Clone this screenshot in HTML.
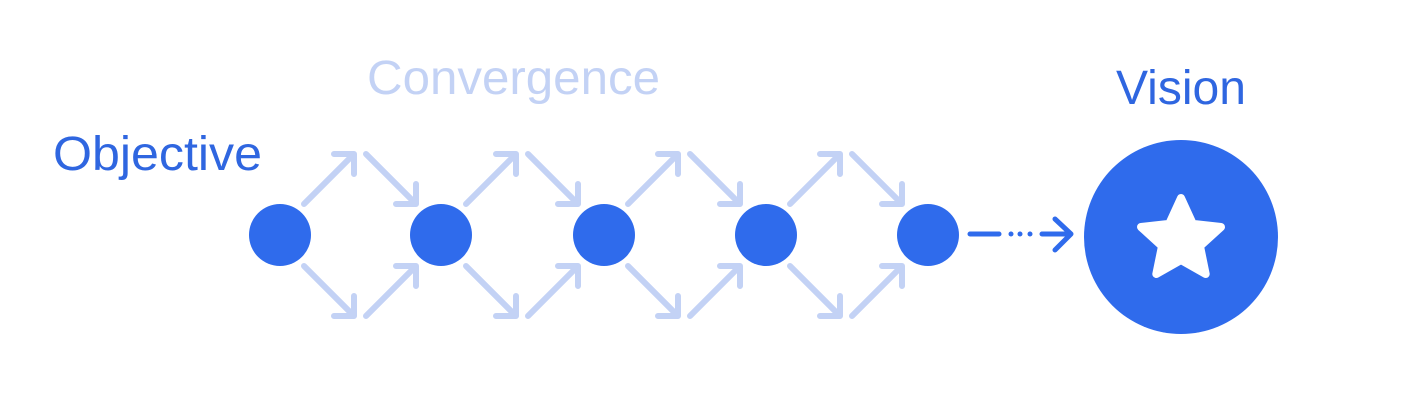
<!DOCTYPE html>
<html><head><meta charset="utf-8"><style>html,body{margin:0;padding:0;background:#fff;}svg{display:block}</style></head>
<body>
<svg width="1422" height="402" viewBox="0 0 1422 402" xmlns="http://www.w3.org/2000/svg">
<g font-family="Liberation Sans, sans-serif" font-size="48">
<text x="53" y="170" fill="#2f66e0" textLength="209" lengthAdjust="spacingAndGlyphs">Objective</text>
<text x="367" y="94" fill="#c3d2f5" textLength="293" lengthAdjust="spacingAndGlyphs">Convergence</text>
<text x="1116" y="104" fill="#2f66e0" textLength="130" lengthAdjust="spacingAndGlyphs">Vision</text>
</g>
<defs>
<g id="unit" fill="none" stroke="#c3d2f5" stroke-width="6" stroke-linecap="round" stroke-linejoin="round">
<path d="M304 204 L354 154 M334 154 L354 154 L354 174"/>
<path d="M366 154 L416 204 M396 204 L416 204 L416 184"/>
<path d="M304 266 L354 316 M334 316 L354 316 L354 296"/>
<path d="M366 316 L416 266 M396 266 L416 266 L416 286"/>
</g>
</defs>
<use href="#unit"/>
<use href="#unit" x="162"/>
<use href="#unit" x="324"/>
<use href="#unit" x="486"/>
<g fill="#2f6bec">
<circle cx="280" cy="235" r="31"/>
<circle cx="441" cy="235" r="31"/>
<circle cx="604" cy="235" r="31"/>
<circle cx="766" cy="235" r="31"/>
<circle cx="928" cy="235" r="31"/>
<circle cx="1181" cy="237" r="97"/>
</g>
<g stroke="#2f6bec" stroke-width="5" stroke-linecap="round" fill="none" stroke-linejoin="round">
<path d="M970 234 L999 234 M1042 234 L1070 234 M1055 219 L1071 234 L1055 250"/>
</g>
<g fill="#2f6bec"><circle cx="1011" cy="234" r="2.5"/><circle cx="1020" cy="234" r="2.5"/><circle cx="1030" cy="234" r="2.5"/></g>
<path d="M1181 198 L1192.8 223.8 L1221 227 L1200 246.2 L1205.7 274 L1181 260 L1156.3 274 L1162 246.2 L1141 227 L1169.2 223.8 Z" fill="#fff" stroke="#fff" stroke-width="8" stroke-linejoin="round"/>
</svg>
</body></html>
